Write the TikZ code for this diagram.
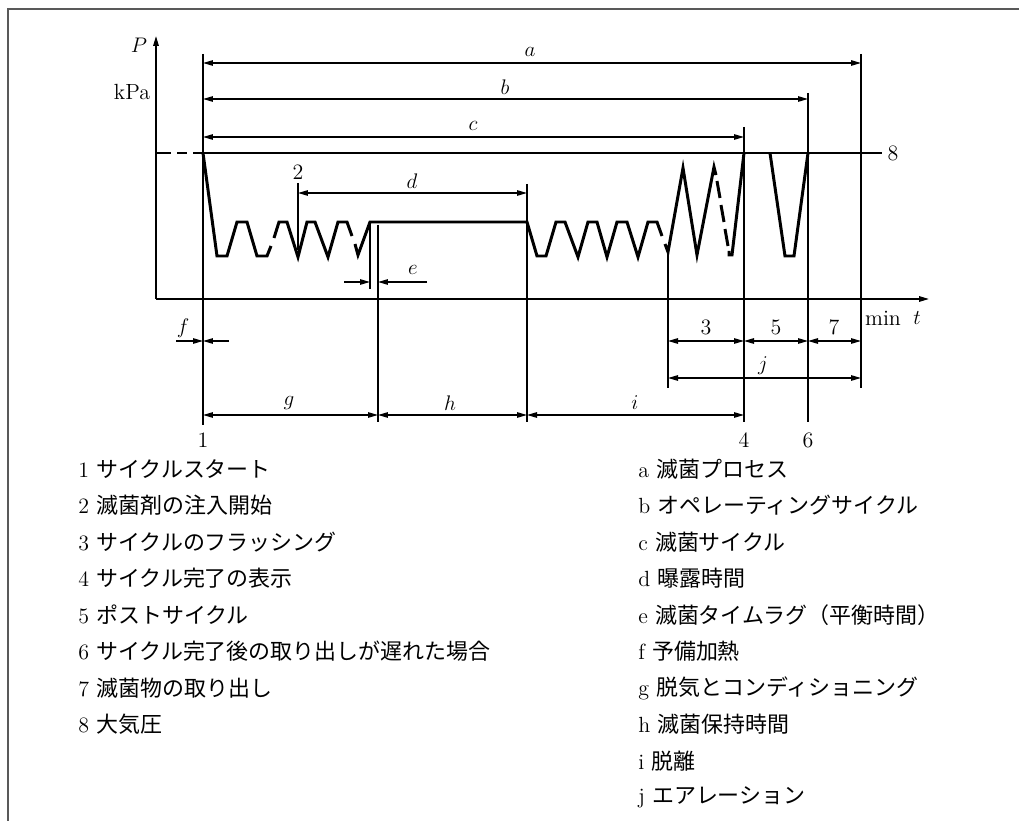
\documentclass[tikz,border=0pt]{standalone}
\usepackage{fontspec}
\newfontfamily\jpfont{Noto Sans CJK JP}
\usetikzlibrary{arrows.meta}

\tikzset{
  wave/.style={line width=1.7pt,line join=miter},
  thinline/.style={line width=0.75pt},
  dimline/.style={line width=0.75pt,<->},
  legend/.style={anchor=west,inner sep=0pt},
}

\begin{document}
\begin{tikzpicture}[x=0.02cm,y=-0.02cm,>={Triangle[length=2mm,width=1.1mm]},font=\fontsize{12.5}{15}\selectfont]
\useasboundingbox (0,0) rectangle (1019,821);
% frame
\draw[gray!70!black,line width=1pt] (8,821) -- (8,9) -- (1019,9);
% axes
\draw[line width=0.9pt,->] (156,299) -- (156,36);
\draw[line width=0.9pt,->] (156,299) -- (929,299);
\node (P) at (139,45) {$P$};
\node (kPa) at (132,92) {kPa};
\node (min) at (883,318) {min};
\node (t) at (917,318) {$t$};
% vertical marks
\draw[thinline] (203,54) -- (203,425);
\draw[thinline] (298,183) -- (298,250);
\draw[thinline] (370,222) -- (370,289);
\draw[thinline] (378,225) -- (378,422);
\draw[thinline] (527,184) -- (527,422);
\draw[thinline] (668,250) -- (668,388);
\draw[line width=1.2pt] (744,127) -- (744,422);
\draw[thinline] (808,93) -- (808,422);
\draw[thinline] (861,54) -- (861,388);
% atmospheric pressure
\draw[thinline] (203,153) -- (882,153);
\draw[wave] (156,153) -- (171,153) (177,153) -- (187,153) (193,153) -- (203,153);
\node (p8) at (893,153) {8};
% pressure curve
\draw[wave] (203,153) -- (217,256) -- (227,256) -- (237,222) -- (247,222) -- (257,256) -- (267,256) -- (271,246);
\draw[wave] (274,238) -- (279,222) -- (287,222) -- (298,257) -- (307,222) -- (315,222) -- (328,257) -- (338,222) -- (347,222) -- (352,236);
\draw[wave] (355,244) -- (358,255) -- (370,222) -- (527,222) -- (537,256) -- (546,256) -- (556,222) -- (565,222) -- (578,257) -- (588,222) -- (597,222) -- (607,257) -- (617,222) -- (627,222) -- (638,257) -- (648,222) -- (657,222) -- (662,236);
\draw[wave] (665,244) -- (668,252) -- (683,168) -- (697,255) -- (714,167) -- (716,175);
\draw[wave] (717,181) -- (720,198) (721,205) -- (724,222) (725,229) -- (728,246);
\draw[wave] (729,251) -- (729,255) -- (732,255) -- (744,153);
\draw[wave] (744,153) -- (754,153) (760,153) -- (770,153);
\draw[wave] (770,153) -- (785,256) -- (794,256) -- (808,153);
\draw[wave] (808,153) -- (820,153) (826,153) -- (842,153) (848,153) -- (861,153);
% dimensions
\draw[dimline] (203,63) -- (861,63);
\node (a) at (530,52) {$a$};
\draw[dimline] (203,99) -- (808,99);
\node (b) at (505,87) {$b$};
\draw[dimline] (203,137) -- (744,137);
\node (c) at (473,126) {$c$};
\draw[dimline] (298,193) -- (527,193);
\node (d) at (412,181) {$d$};
\node (n2) at (298,172) {2};
\draw[thinline,->] (344,282) -- (370,282);
\draw[thinline,->] (427,282) -- (378,282);
\node (e) at (413,270) {$e$};
\draw[thinline,->] (176,341) -- (203,341);
\draw[thinline,->] (229,341) -- (203,341);
\node (f) at (183,328) {$f$};
\draw[dimline] (203,415) -- (378,415);
\draw[dimline] (378,415) -- (527,415);
\draw[dimline] (527,415) -- (744,415);
\node (g) at (289,403) {$g$};
\node (h) at (450,403) {$h$};
\node (i) at (635,403) {$i$};
\draw[dimline] (668,341) -- (744,341);
\draw[dimline] (744,341) -- (808,341);
\draw[dimline] (808,341) -- (861,341);
\node (n3) at (706,327) {3};
\node (n5) at (776,327) {5};
\node (n7) at (834,327) {7};
\draw[dimline] (668,378) -- (861,378);
\node (j) at (763,366) {$j$};
\node (n1) at (203,440) {1};
\node (n4) at (744,440) {4};
\node (n6) at (808,440) {6};
% legend
\node[legend] (k1) at (78,469) {1\ \jpfont サイクルスタート};
\node[legend] (k2) at (78,505.5) {2\ \jpfont 滅菌剤の注入開始};
\node[legend] (k3) at (78,542) {3\ \jpfont サイクルのフラッシング};
\node[legend] (k4) at (78,578.5) {4\ \jpfont サイクル完了の表示};
\node[legend] (k5) at (78,615) {5\ \jpfont ポストサイクル};
\node[legend] (k6) at (78,651.5) {6\ \jpfont サイクル完了後の取り出しが遅れた場合};
\node[legend] (k7) at (78,688) {7\ \jpfont 滅菌物の取り出し};
\node[legend] (k8) at (78,724.5) {8\ \jpfont 大気圧};
\node[legend] (ka) at (638,469) {a\ \jpfont 滅菌プロセス};
\node[legend] (kb) at (638,505.5) {b\ \jpfont オペレーティングサイクル};
\node[legend] (kc) at (638,542) {c\ \jpfont 滅菌サイクル};
\node[legend] (kd) at (638,578.5) {d\ \jpfont 曝露時間};
\node[legend] (ke) at (638,615) {e\ \jpfont 滅菌タイムラグ（平衡時間）};
\node[legend] (kf) at (638,651.5) {f\ \jpfont 予備加熱};
\node[legend] (kg) at (638,688) {g\ \jpfont 脱気とコンディショニング};
\node[legend] (kh) at (638,724.5) {h\ \jpfont 滅菌保持時間};
\node[legend] (ki) at (638,761) {i\ \jpfont 脱離};
\node[legend] (kj) at (638,797.5) {j\ \jpfont エアレーション};
\end{tikzpicture}
\end{document}
